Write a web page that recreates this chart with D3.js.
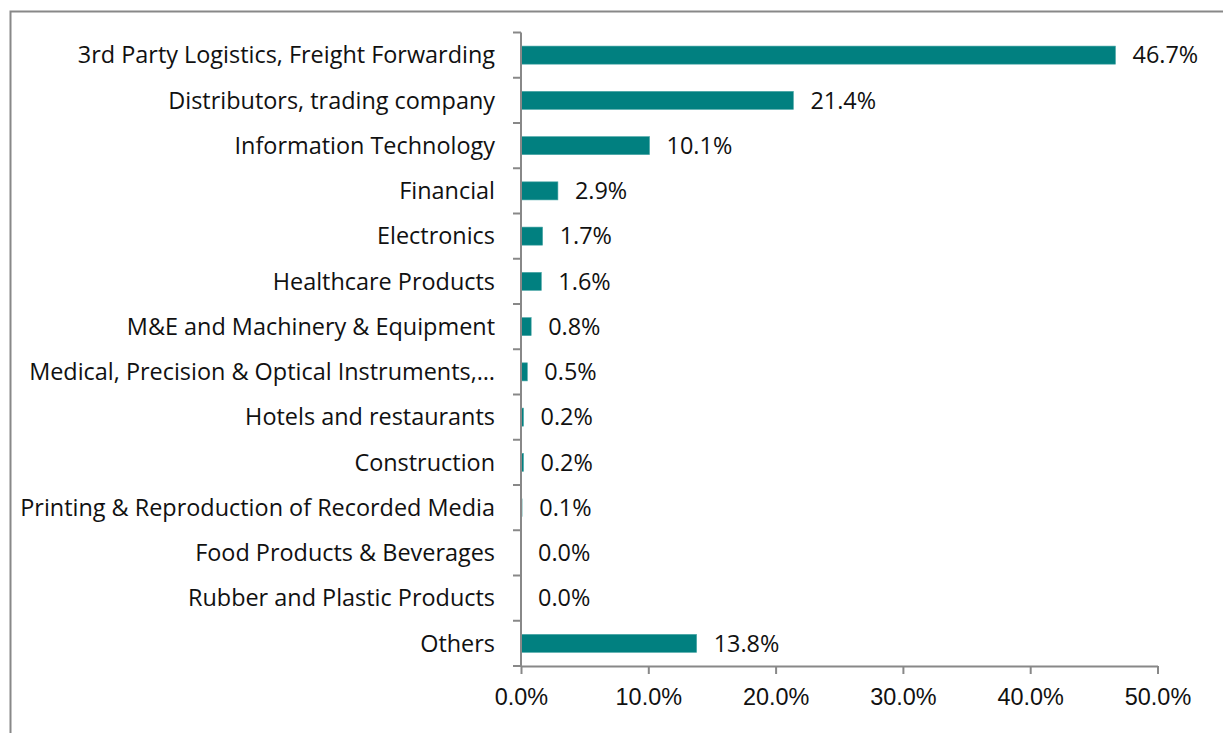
<!DOCTYPE html>
<html>
<head>
<meta charset="utf-8">
<script src="https://cdn.jsdelivr.net/npm/d3@7"></script>
<style>
  body { margin: 0; background: #fff; }
  svg { display: block; font-family: "Open Sans", Lato, sans-serif; }
</style>
</head>
<body>
<svg class="chart" width="1223" height="733"></svg>
<script>
// datos del gráfico
var categories = [
  "3rd Party Logistics, Freight Forwarding",
  "Distributors, trading company",
  "Information Technology",
  "Financial",
  "Electronics",
  "Healthcare Products",
  "M&E and Machinery & Equipment",
  "Medical, Precision & Optical Instruments,…",
  "Hotels and restaurants",
  "Construction",
  "Printing & Reproduction of Recorded Media",
  "Food Products & Beverages",
  "Rubber and Plastic Products",
  "Others"
];
var values = [46.7, 21.4, 10.1, 2.9, 1.7, 1.6, 0.8, 0.5, 0.2, 0.2, 0.1, 0.0, 0.0, 13.8];
var xTicks = [0, 10, 20, 30, 40, 50];

var margin = {top: 32.5, left: 521, right: 65, bottom: 67};
var W = 1223, H = 733;
var fontSize = 20;

var svg = d3.select(".chart");

// ajustar tamaño de letra para que la etiqueta más larga ocupe ~475px
var probe = svg.append("text").style("font-size", fontSize + "px")
  .text("Printing & Reproduction of Recorded Media");
var pw = probe.node().getComputedTextLength();
probe.remove();
fontSize = fontSize * 475 / pw;

// borde exterior
svg.append("rect")
  .attr("x", 10.5).attr("y", 11.5)
  .attr("width", W + 20).attr("height", H + 20)
  .attr("fill", "none").attr("stroke", "#888").attr("stroke-width", 2);

var x = d3.scaleLinear().domain([0, 50]).range([margin.left, 1157.5]);
var y = d3.scaleBand().domain(categories).range([margin.top, H - margin.bottom]).paddingInner(0.6).paddingOuter(0.3);

var g = svg.append("g");

// barras
g.selectAll("rect.bar")
  .data(values)
  .enter().append("rect")
  .attr("class", "bar")
  .attr("x", x(0))
  .attr("y", function(d, i) { return y(categories[i]); })
  .attr("width", function(d) { return x(d) - x(0); })
  .attr("height", y.bandwidth())
  .attr("fill", "#018080")
  .attr("stroke", function(d) { return d > 0.15 ? "#4fa8a8" : "none"; })
  .attr("stroke-width", 0.6);

// etiquetas de valor
g.selectAll("text.val")
  .data(values)
  .enter().append("text")
  .attr("class", "val")
  .attr("x", function(d) { return x(d) + 17; })
  .attr("y", function(d, i) { return y(categories[i]) + y.bandwidth() / 2; })
  .attr("dy", "0.35em")
  .style("font-size", fontSize + "px")
  .attr("fill", "#111")
  .text(function(d) { return d.toFixed(1) + "%"; });

// eje y (líneas de separación entre categorías)
var step = (H - margin.bottom - margin.top) / categories.length;
var yBounds = d3.range(categories.length + 1).map(function(i) { return margin.top + i * step; });

var axisColor = "#888";
g.append("line")
  .attr("x1", x(0)).attr("x2", x(0))
  .attr("y1", margin.top).attr("y2", H - margin.bottom)
  .attr("stroke", axisColor).attr("stroke-width", 2);

g.selectAll("line.ytick")
  .data(yBounds)
  .enter().append("line")
  .attr("class", "ytick")
  .attr("x1", x(0) - 8).attr("x2", x(0))
  .attr("y1", function(d) { return d; }).attr("y2", function(d) { return d; })
  .attr("stroke", axisColor).attr("stroke-width", 2);

// etiquetas de categoría
g.selectAll("text.cat")
  .data(categories)
  .enter().append("text")
  .attr("class", "cat")
  .attr("x", x(0) - 26)
  .attr("y", function(d) { return y(d) + y.bandwidth() / 2; })
  .attr("dy", "0.35em")
  .attr("text-anchor", "end")
  .style("font-size", fontSize + "px")
  .attr("fill", "#111")
  .text(function(d) { return d; });

// eje x
var xAxis = d3.axisBottom(x)
  .tickValues(xTicks)
  .tickSize(8)
  .tickSizeOuter(0)
  .tickPadding(14)
  .tickFormat(function(d) { return d.toFixed(1) + "%"; });

var xg = svg.append("g")
  .attr("transform", "translate(0," + (H - margin.bottom) + ")")
  .call(xAxis);
xg.select(".domain").attr("stroke", axisColor).attr("stroke-width", 2);
xg.selectAll(".tick line").attr("stroke", axisColor).attr("stroke-width", 2);
xg.selectAll(".tick text")
  .style("font-size", fontSize + "px")
  .attr("fill", "#111")
  .attr("font-family", null);
</script>
</body>
</html>
